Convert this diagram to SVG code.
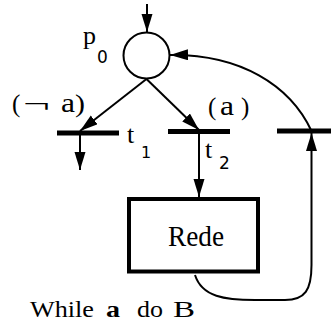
<svg xmlns="http://www.w3.org/2000/svg" width="331" height="324" viewBox="0 0 331 324">
<style>
.serif{font-family:"Liberation Serif","Times New Roman",serif;fill:#000}
.sub{font-family:"DejaVu Sans","Liberation Sans",sans-serif;fill:#000}
.arc{fill:none;stroke:#000;stroke-width:2}
.bar{stroke:#000;stroke-width:5}
</style>
<defs>
<marker id="ah" markerUnits="userSpaceOnUse" markerWidth="20" markerHeight="12" refX="18" refY="5.5" orient="auto">
<path d="M0,0 L18,5.5 L0,11 z" fill="#000"/>
</marker>
</defs>
<rect width="331" height="324" fill="#fff"/>
<g id="connectors">
<line class="arc" x1="147" y1="4" x2="147" y2="32" marker-end="url(#ah)"/>
<line class="arc" x1="146.5" y1="79" x2="80" y2="131" marker-end="url(#ah)"/>
<line class="arc" x1="146.5" y1="79" x2="199" y2="130" marker-end="url(#ah)"/>
<line class="arc" x1="80" y1="133" x2="80" y2="170" marker-end="url(#ah)"/>
<line class="arc" x1="199" y1="131" x2="199" y2="197" marker-end="url(#ah)"/>
<path class="arc" d="M195,275 C202,297 225,300 255,300 L285,300 C305,300 311.5,290 311.5,265 L311.5,133" marker-end="url(#ah)"/>
<path class="arc" d="M311.5,131 C290,85 240,54 170,55" marker-end="url(#ah)"/>
</g>
<g id="p0">
<circle cx="146.5" cy="55.5" r="23" fill="#fff" stroke="#000" stroke-width="2"/>
<text class="serif" x="83" y="44" font-size="26">p</text>
<text class="sub" x="97" y="63" font-size="17">0</text>
</g>
<g id="t1">
<line class="bar" x1="57" y1="133" x2="119" y2="133"/>
<text class="serif" x="127" y="143" font-size="26">t</text>
<text class="sub" x="141" y="158" font-size="16">1</text>
<text class="serif" x="12" y="112" font-size="25">(</text>
<text class="serif" x="23" y="112" font-size="25" textLength="27" lengthAdjust="spacingAndGlyphs">¬</text>
<text class="serif" x="61" y="112" font-size="27" textLength="14" lengthAdjust="spacingAndGlyphs">a</text>
<text class="serif" x="75" y="112" font-size="25" textLength="10" lengthAdjust="spacingAndGlyphs">)</text>
</g>
<g id="t2">
<line class="bar" x1="168" y1="131.5" x2="230" y2="131.5"/>
<text class="serif" x="205" y="158" font-size="26">t</text>
<text class="sub" x="219" y="169" font-size="17">2</text>
<text class="serif" x="208" y="115" font-size="25">(</text>
<text class="serif" x="220" y="115" font-size="27" textLength="14" lengthAdjust="spacingAndGlyphs">a</text>
<text class="serif" x="241" y="115" font-size="25">)</text>
</g>
<g id="t3">
<line class="bar" x1="277" y1="131" x2="331" y2="131"/>
</g>
<g id="rede">
<rect x="129" y="199" width="129" height="72.5" fill="#fff" stroke="#000" stroke-width="4"/>
<text class="serif" x="196" y="246" font-size="29" text-anchor="middle" textLength="56" lengthAdjust="spacingAndGlyphs">Rede</text>
</g>
<g id="caption">
<text class="serif" x="30" y="317" font-size="23.5" textLength="64" lengthAdjust="spacingAndGlyphs">While</text>
<text class="serif" x="106" y="317" font-size="24" font-weight="bold" textLength="14" lengthAdjust="spacingAndGlyphs">a</text>
<text class="serif" x="137" y="317" font-size="23.5" textLength="26" lengthAdjust="spacingAndGlyphs">do</text>
<text class="serif" x="173" y="317" font-size="24" textLength="22" lengthAdjust="spacingAndGlyphs">B</text>
</g>
</svg>
